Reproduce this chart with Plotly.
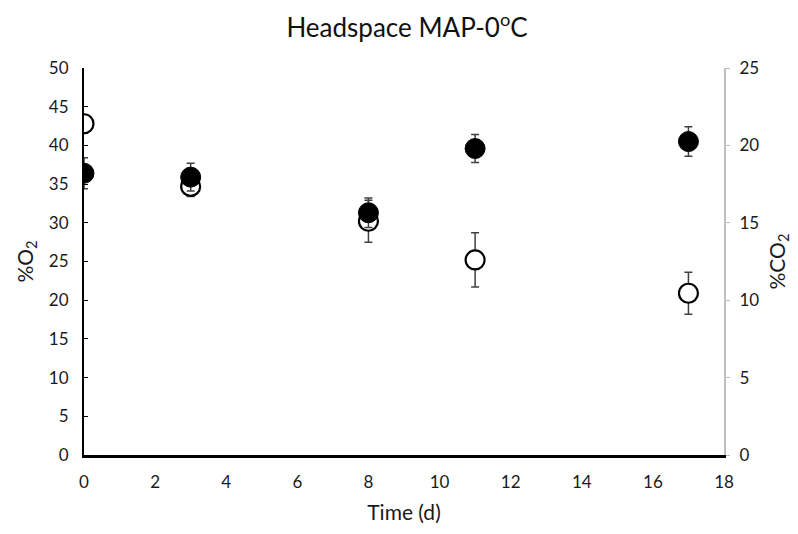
import plotly.graph_objects as go

time_d = [0, 3, 8, 11, 17]
o2_pct = [42.8, 34.7, 30.2, 25.2, 20.9]
o2_err = [1.0, 1.3, 2.7, 3.5, 2.7]
co2_pct = [18.2, 17.95, 15.65, 19.8, 20.25]
co2_err = [1.0, 0.9, 0.95, 0.9, 0.95]

x_ticks = [0, 2, 4, 6, 8, 10, 12, 14, 16, 18]
y1_ticks = [0, 5, 10, 15, 20, 25, 30, 35, 40, 45, 50]
y2_ticks = [0, 5, 10, 15, 20, 25]

font = "Lato, 'Open Sans', sans-serif"

fig = go.Figure()
fig.add_trace(go.Scatter(
    x=time_d, y=o2_pct, mode="markers", name="%O2",
    marker=dict(symbol="circle", size=19, color="white",
                line=dict(color="black", width=2.2)),
    error_y=dict(type="data", array=o2_err, visible=True,
                 color="#404040", thickness=1.5, width=4),
    yaxis="y", showlegend=False))
fig.add_trace(go.Scatter(
    x=time_d, y=co2_pct, mode="markers", name="%CO2",
    marker=dict(symbol="circle", size=20, color="black",
                line=dict(color="black", width=1)),
    error_y=dict(type="data", array=co2_err, visible=True,
                 color="#404040", thickness=1.5, width=4),
    yaxis="y2", showlegend=False))

fig.update_layout(
    width=798, height=534,
    margin=dict(l=76, r=82, t=60, b=87, autoexpand=False),
    paper_bgcolor="white", plot_bgcolor="white",
    font=dict(family=font, color="#1a1a1a", size=17),
    title=dict(text="Headspace MAP-0<sup>o</sup>C", x=0.5, xanchor="center",
               y=0.962, yanchor="middle",
               font=dict(size=26, family=font, color="#111111")),
    xaxis=dict(range=[0, 18], tickvals=x_ticks, showgrid=False, zeroline=False,
               showline=True, linecolor="black", linewidth=3, ticks="",
               tickfont=dict(size=17), ticklabelstandoff=10,
               title=dict(text="Time (d)", font=dict(size=21), standoff=14)),
    yaxis=dict(range=[0, 50], tickvals=y1_ticks, showgrid=False, zeroline=False,
               showline=True, linecolor="black", linewidth=2,
               ticks="inside", ticklen=4, tickcolor="black",
               tickfont=dict(size=17), ticklabelstandoff=10,
               title=dict(text="%O<sub>2</sub>", font=dict(size=21), standoff=10)),
    yaxis2=dict(range=[0, 25], tickvals=y2_ticks, overlaying="y", side="right",
                showgrid=False, zeroline=False, showline=True,
                linecolor="#bfbfbf", linewidth=2, ticks="outside", ticklen=4,
                tickcolor="#bfbfbf", tickfont=dict(size=17), ticklabelstandoff=6,
                title=dict(text="%CO<sub>2</sub>", font=dict(size=21), standoff=12)),
)

fig.write_html("out.html")
